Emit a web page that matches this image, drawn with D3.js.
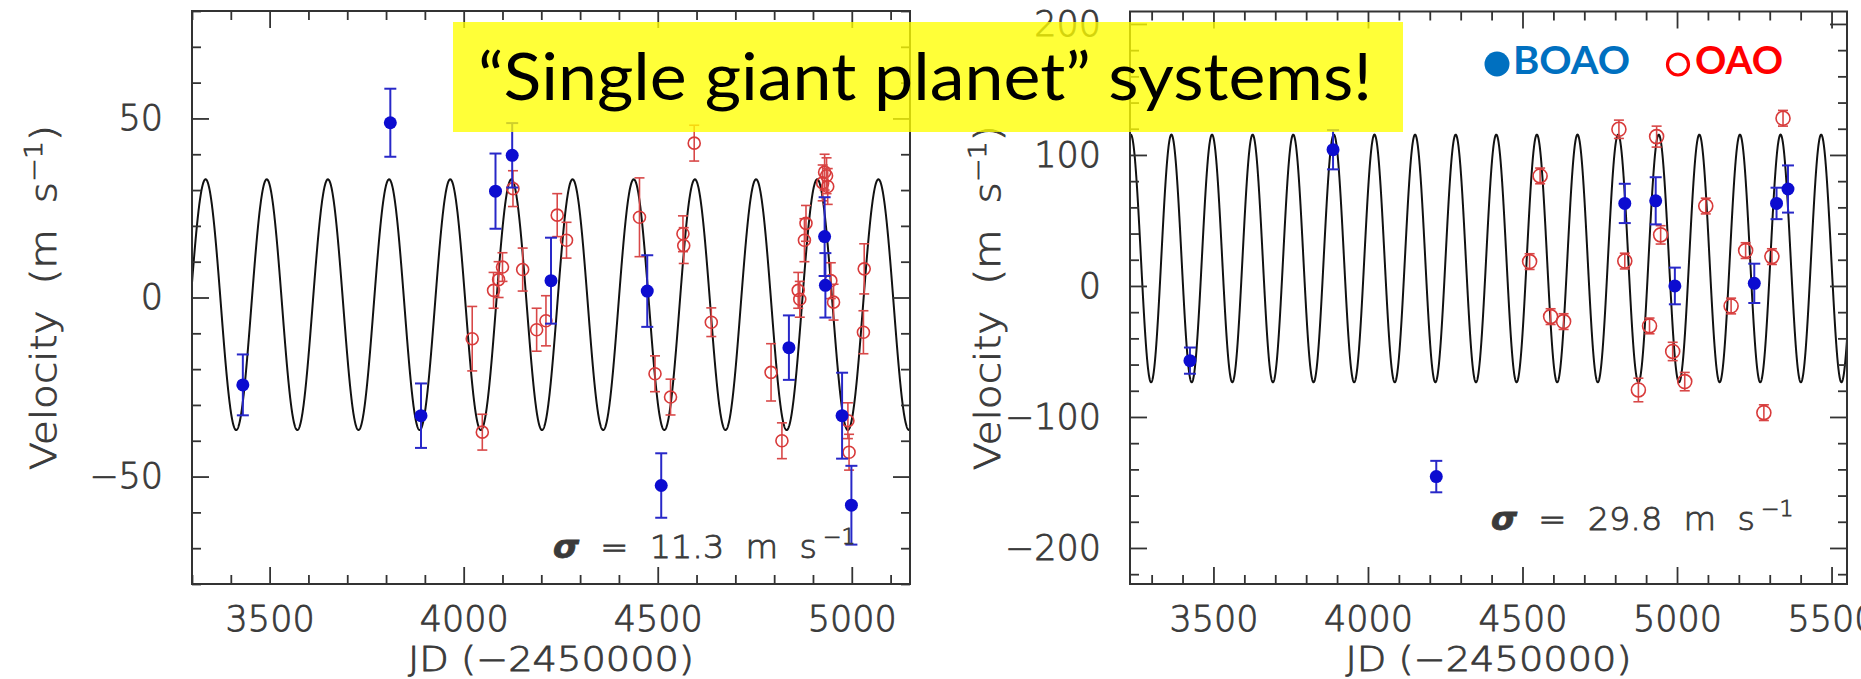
<!DOCTYPE html>
<html><head><meta charset="utf-8">
<script src="https://cdn.jsdelivr.net/npm/d3@7"></script>
<style>
html,body{margin:0;padding:0;background:#fff;}
svg{display:block;}
</style></head><body>
<svg id="chart" width="1861" height="679"></svg>
<script>
// ---------------- data ----------------
// [JD-2450000, velocity m/s, error m/s]
const leftBOAO = [
  [3431, -24.4, 8.5], [3811, 48.8, 9.5], [3890, -33, 9], [4082, 29.7, 10.5],
  [4125, 39.7, 9], [4225, 4.7, 12], [4473, 1.8, 10], [4509, -52.5, 9],
  [4838, -14, 9], [4930, 17, 11], [4932, 3.4, 9], [4975, -33, 12], [4999, -58, 11]
];
const leftOAO = [
  [4022, -11.5, 9], [4048, -37.6, 5], [4077, 2, 5], [4090, 5, 5], [4100, 8.5, 4],
  [4127, 30.4, 5], [4152, 7.8, 6], [4188, -9, 6], [4212, -6.5, 7], [4241, 23, 6],
  [4265, 16, 5], [4453, 22.4, 11], [4493, -21.3, 5], [4533, -27.8, 5], [4565, 17.8, 5],
  [4567, 14.5, 5], [4594, 43.1, 5], [4638, -6.9, 4], [4792, -20.9, 8], [4820, -40, 5],
  [4862, 2, 5], [4866, -0.5, 5], [4878, 16, 6], [4882, 20.7, 5], [4925, 32, 5],
  [4930, 35, 5], [4935, 34, 5], [4938, 31, 5], [4946, 4.7, 5], [4953, -1.3, 5],
  [4990, -34.4, 5], [4993, -43.2, 5], [5030, -9.7, 6], [5032, 8, 7]
];
const rightBOAO = [
  [3424, -57, 10], [3887, 104, 15], [4221, -145.5, 12], [4831, 63, 15], [4931, 65, 18],
  [4993, 0, 14], [5250, 2, 15], [5322, 63, 12], [5359, 74, 18]
];
const rightOAO = [
  [4523, 18.6, 6], [4557, 84, 6], [4591, -23.4, 6], [4633, -27.2, 6], [4812, 119.6, 7],
  [4831, 19, 6], [4875, -79.4, 9], [4911, -30.5, 6], [4934, 114, 8], [4947, 39, 7],
  [4986, -50, 7], [5025, -73, 7], [5093, 61, 6], [5175, -15.3, 6], [5222, 27, 6],
  [5281, -96.7, 6], [5307, 22.4, 6], [5343, 128, 6]
];
// orbit fit: [period d, K m/s, epoch of max, offset m/s]
const leftOrbit = [157.6, 35, 3335, -2];
const rightOrbit = [131.4, 94.5, 3364, 21];
// axes
const leftXDomain = [3300, 5150], leftYDomain = [-80, 80];
const rightXDomain = [3230, 5550], rightYDomain = [-227.5, 209.5];
const leftXTicks = [3500, 4000, 4500, 5000];
const leftYTicks = [-50, 0, 50];
const rightXTicks = [3500, 4000, 4500, 5000, 5500];
const rightYTicks = [-200, -100, 0, 100, 200];
const leftXMinorStep = 100, leftYMinorStep = 10;
const rightXMinorStep = 100, rightYMinorStep = 20;
const sigmaLabels = ["11.3", "29.8"];
const titleText = "\u201CSingle giant planet\u201D systems!";
const legendNames = ["BOAO", "OAO"];

// ---------------- drawing ----------------
const svg = d3.select("#chart");
svg.append("rect").attr("width", 1861).attr("height", 679).attr("fill", "#fff");
const FONT = "'DejaVu Sans', sans-serif";
const INK = "#333";
const TXT = "#3a3a3a";
const lightText = sel => sel.attr("font-family", FONT).attr("font-weight", 200)
  .attr("fill", TXT).attr("stroke", TXT).attr("stroke-width", 0.8);

const panels = [
  {xd: leftXDomain, yd: leftYDomain, xr: [192, 910], yr: [584, 11], boao: leftBOAO, oao: leftOAO,
   orbit: leftOrbit, xt: leftXTicks, yt: leftYTicks, xs: leftXMinorStep, ys: leftYMinorStep,
   rOAO: 6, capB: 6, capR: 5, ylabX: 56, sigma: sigmaLabels[0], sigX: 553, sigY: 558},
  {xd: rightXDomain, yd: rightYDomain, xr: [1130, 1847], yr: [584, 11.5], boao: rightBOAO, oao: rightOAO,
   orbit: rightOrbit, xt: rightXTicks, yt: rightYTicks, xs: rightXMinorStep, ys: rightYMinorStep,
   rOAO: 7, capB: 6, capR: 5, ylabX: 1000, sigma: sigmaLabels[1], sigX: 1491, sigY: 530}
];

function minorTicks(dom, step) {
  const a = Math.ceil(dom[0] / step) * step;
  return d3.range(a, dom[1] + 1e-6, step);
}

panels.forEach((p, i) => {
  const x = d3.scaleLinear().domain(p.xd).range(p.xr);
  const y = d3.scaleLinear().domain(p.yd).range(p.yr);
  const g = svg.append("g");
  const cid = "clip" + i;
  svg.append("clipPath").attr("id", cid).append("rect")
    .attr("x", p.xr[0]).attr("y", p.yr[1]).attr("width", p.xr[1] - p.xr[0]).attr("height", p.yr[0] - p.yr[1]);

  // orbit curve
  const [P, K, T0, V0] = p.orbit;
  const ts = d3.range(p.xd[0], p.xd[1] + 0.5, 0.5);
  g.append("path")
    .attr("clip-path", `url(#${cid})`)
    .attr("d", d3.line().x(t => x(t)).y(t => y(V0 + K * Math.cos(2 * Math.PI * (t - T0) / P)))(ts))
    .attr("fill", "none").attr("stroke", "#111").attr("stroke-width", 2);

  // OAO error bars + open circles
  const go = g.append("g");
  p.oao.forEach(d => {
    const cx = x(d[0]), cy = y(d[1]), y1 = y(d[1] + d[2]), y2 = y(d[1] - d[2]);
    go.append("line").attr("x1", cx).attr("x2", cx).attr("y1", y1).attr("y2", y2)
      .attr("stroke", "#d84848").attr("stroke-width", 1.6);
    [y1, y2].forEach(yy => go.append("line").attr("x1", cx - p.capR).attr("x2", cx + p.capR)
      .attr("y1", yy).attr("y2", yy).attr("stroke", "#d84848").attr("stroke-width", 1.6));
    go.append("circle").attr("cx", cx).attr("cy", cy).attr("r", p.rOAO)
      .attr("fill", "none").attr("stroke", "#d83a3a").attr("stroke-width", 1.6);
  });
  // BOAO error bars + filled circles
  const gb = g.append("g");
  p.boao.forEach(d => {
    const cx = x(d[0]), cy = y(d[1]), y1 = y(d[1] + d[2]), y2 = y(d[1] - d[2]);
    gb.append("line").attr("x1", cx).attr("x2", cx).attr("y1", y1).attr("y2", y2)
      .attr("stroke", "#2828c8").attr("stroke-width", 2);
    [y1, y2].forEach(yy => gb.append("line").attr("x1", cx - p.capB).attr("x2", cx + p.capB)
      .attr("y1", yy).attr("y2", yy).attr("stroke", "#2828c8").attr("stroke-width", 2));
    gb.append("circle").attr("cx", cx).attr("cy", cy).attr("r", 6.5).attr("fill", "#0c0cd0");
  });

  // axes
  const MAJ = 17, MIN = 9;
  const xMin = minorTicks(p.xd, p.xs).filter(v => !p.xt.includes(v));
  const yMin = minorTicks(p.yd, p.ys).filter(v => !p.yt.includes(v));
  const fmt = d3.format("d");
  const styleAxis = sel => {
    sel.select(".domain").remove();
    sel.selectAll("line").attr("stroke", INK).attr("stroke-width", 1.8);
    sel.selectAll("text").call(lightText).attr("font-size", 35);
  };
  const ax = g.append("g");
  ax.append("g").attr("transform", `translate(0,${p.yr[0]})`)
    .call(d3.axisBottom(x).tickValues(p.xt).tickSize(-MAJ).tickPadding(22).tickFormat(fmt)).call(styleAxis);
  ax.append("g").attr("transform", `translate(0,${p.yr[0]})`)
    .call(d3.axisBottom(x).tickValues(xMin).tickSize(-MIN).tickFormat("")).call(styleAxis);
  ax.append("g").attr("transform", `translate(0,${p.yr[1]})`)
    .call(d3.axisTop(x).tickValues(p.xt).tickSize(-MAJ).tickFormat("")).call(styleAxis);
  ax.append("g").attr("transform", `translate(0,${p.yr[1]})`)
    .call(d3.axisTop(x).tickValues(xMin).tickSize(-MIN).tickFormat("")).call(styleAxis);
  ax.append("g").attr("transform", `translate(${p.xr[0]},0)`)
    .call(d3.axisLeft(y).tickValues(p.yt).tickSize(-MAJ).tickPadding(29).tickFormat(fmt)).call(styleAxis);
  ax.append("g").attr("transform", `translate(${p.xr[0]},0)`)
    .call(d3.axisLeft(y).tickValues(yMin).tickSize(-MIN).tickFormat("")).call(styleAxis);
  ax.append("g").attr("transform", `translate(${p.xr[1]},0)`)
    .call(d3.axisRight(y).tickValues(p.yt).tickSize(-MAJ).tickFormat("")).call(styleAxis);
  ax.append("g").attr("transform", `translate(${p.xr[1]},0)`)
    .call(d3.axisRight(y).tickValues(yMin).tickSize(-MIN).tickFormat("")).call(styleAxis);

  // frame
  g.append("rect").attr("x", p.xr[0]).attr("y", p.yr[1])
    .attr("width", p.xr[1] - p.xr[0]).attr("height", p.yr[0] - p.yr[1])
    .attr("fill", "none").attr("stroke", INK).attr("stroke-width", 2);

  // x label
  const xc = (p.xr[0] + p.xr[1]) / 2;
  g.append("text").attr("x", xc).attr("y", 671).attr("text-anchor", "middle")
    .call(lightText).attr("font-size", 34)
    .attr("textLength", 286).attr("lengthAdjust", "spacingAndGlyphs")
    .text("JD (\u22122450000)");

  // y label
  const yc = (p.yr[0] + p.yr[1]) / 2;
  const yl = g.append("text").attr("transform", `translate(${p.ylabX},${yc}) rotate(-90)`)
    .attr("text-anchor", "middle").call(lightText).attr("font-size", 35)
    .attr("textLength", 345).attr("lengthAdjust", "spacingAndGlyphs")
    .style("white-space", "pre");
  yl.append("tspan").text("Velocity  (m  s");
  yl.append("tspan").attr("dy", -14).attr("font-size", 24).text("\u22121");
  yl.append("tspan").attr("dy", 14).text(")");

  // sigma
  const st = g.append("text").attr("x", p.sigX).attr("y", p.sigY)
    .call(lightText).attr("font-size", 32)
    .attr("textLength", 264).attr("lengthAdjust", "spacingAndGlyphs").style("white-space", "pre");
  st.append("tspan").attr("font-style", "italic").attr("font-weight", "bold").text("\u03C3");
  st.append("tspan").text("  =  " + p.sigma + "  m  s");
  g.append("text").attr("x", p.sigX + 270).attr("y", p.sigY - 14)
    .call(lightText).attr("font-size", 22).text("\u22121");
});

// title box
svg.append("rect").attr("x", 453).attr("y", 22).attr("width", 950).attr("height", 110)
  .attr("fill", "#ffff00").attr("fill-opacity", 0.78);
svg.append("text").attr("x", 478).attr("y", 100)
  .attr("font-family", "Lato, 'Open Sans', sans-serif").attr("font-size", 65).attr("fill", "#000")
  .attr("textLength", 894).attr("lengthAdjust", "spacingAndGlyphs")
  .text(titleText);

// legend
const lg = svg.append("g");
lg.append("circle").attr("cx", 1497).attr("cy", 64).attr("r", 12.5).attr("fill", "#0070C0");
lg.append("text").attr("x", 1513).attr("y", 74).attr("font-family", "Lato, sans-serif")
  .attr("font-weight", "bold").attr("font-size", 38).attr("fill", "#0070C0")
  .attr("textLength", 117).attr("lengthAdjust", "spacingAndGlyphs").text(legendNames[0]);
lg.append("circle").attr("cx", 1678).attr("cy", 64.5).attr("r", 10.5)
  .attr("fill", "none").attr("stroke", "#FF0000").attr("stroke-width", 3.2);
lg.append("text").attr("x", 1695).attr("y", 74).attr("font-family", "Lato, sans-serif")
  .attr("font-weight", "bold").attr("font-size", 38).attr("fill", "#FF0000")
  .attr("textLength", 88).attr("lengthAdjust", "spacingAndGlyphs").text(legendNames[1]);
</script>
</body></html>
